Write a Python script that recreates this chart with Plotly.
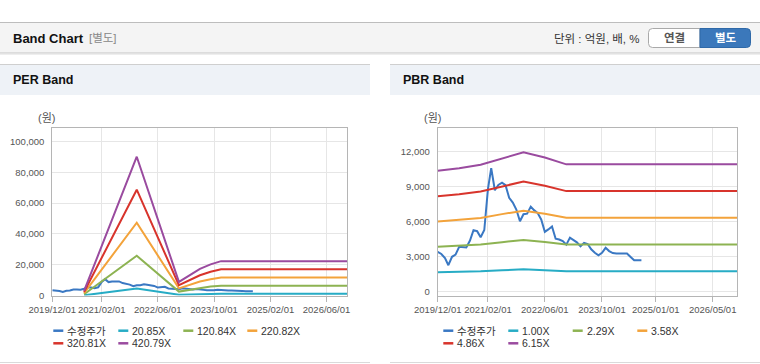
import plotly.graph_objects as go
import pandas as pd

W, H = 760, 364

# ---------------- data ----------------
price_dates = pd.date_range("2019-12-01", periods=58, freq="MS")
price = [3430, 3250, 2900, 2290, 3010, 3200, 3860, 3860, 3800, 4400,
         5290, 5200, 4680, 5300, 8800, 10600, 8700, 9150, 9350, 9140,
         8050, 7650, 7050, 6050, 6650, 6700, 7300, 7000, 6750, 6200,
         5140, 5350, 5600, 4560, 4490, 4350, 4050, 4650, 4400, 4250,
         3900, 4200, 4100, 3650, 3350, 3140, 3350, 3780, 3500, 3330,
         3300, 3300, 3290, 3300, 3000, 2720, 2720, 2720]

per_dates = ["2020-09-01", "2021-12-01", "2022-12-01", "2023-03-01",
             "2023-06-01", "2023-09-01", "2023-12-01", "2026-12-01"]
per_20_85 = [146, 4462, 438, 646, 855, 1001, 1105, 1105]
per_120_84 = [846, 25860, 2538, 3746, 4954, 5800, 6405, 6405]
per_220_82 = [1546, 47255, 4637, 6845, 9054, 10599, 11703, 11703]
per_320_81 = [2246, 68653, 6737, 9945, 13153, 15399, 17003, 17003]
per_420_79 = [2946, 90049, 8837, 13044, 17252, 20198, 22302, 22302]

pbr_dates = ["2019-12-01", "2020-06-01", "2020-12-01", "2021-06-01",
             "2021-12-01", "2022-06-01", "2022-12-01", "2026-12-01"]
pbr_1_00 = [1687, 1720, 1770, 1860, 1943, 1870, 1775, 1775]
pbr_2_29 = [3863, 3939, 4053, 4259, 4449, 4282, 4065, 4065]
pbr_3_58 = [6039, 6158, 6337, 6659, 6956, 6695, 6355, 6355]
pbr_4_86 = [8199, 8359, 8602, 9040, 9443, 9088, 8627, 8627]
pbr_6_15 = [10375, 10578, 10886, 11439, 11949, 11501, 10916, 10916]

per_names = ["20.85X", "120.84X", "220.82X", "320.81X", "420.79X"]
pbr_names = ["1.00X", "2.29X", "3.58X", "4.86X", "6.15X"]
price_name = "수정주가"

per_ticks = ["2019-12-01", "2021-02-01", "2022-06-01", "2023-10-01", "2025-02-01", "2026-06-01"]
pbr_ticks = ["2019-12-01", "2021-02-01", "2022-06-01", "2023-10-01", "2025-01-01", "2026-05-01"]
per_yticks = [0, 20000, 40000, 60000, 80000, 100000]
pbr_yticks = [0, 3000, 6000, 9000, 12000]

# ---------------- style ----------------
C_BLUE = "#3a78c3"
C_CYAN = "#27acc5"
C_GREEN = "#8db352"
C_ORANGE = "#f3a33b"
C_RED = "#d8342c"
C_PURPLE = "#9a4b9f"
band_colors = [C_CYAN, C_GREEN, C_ORANGE, C_RED, C_PURPLE]

FONT = "Liberation Sans, Noto Sans CJK KR, sans-serif"


def px(x):
    return x / W


def py(y):
    return 1 - y / H


fig = go.Figure()

# PER chart
fig.add_trace(go.Scatter(x=price_dates, y=price, mode="lines", name=price_name,
                         line=dict(color=C_BLUE, width=2), xaxis="x", yaxis="y",
                         showlegend=False))
for nm, vals, col in zip(per_names, [per_20_85, per_120_84, per_220_82, per_320_81, per_420_79], band_colors):
    fig.add_trace(go.Scatter(x=per_dates, y=vals, mode="lines", name=nm,
                             line=dict(color=col, width=2), xaxis="x", yaxis="y",
                             showlegend=False))

# PBR chart
fig.add_trace(go.Scatter(x=price_dates, y=price, mode="lines", name=price_name,
                         line=dict(color=C_BLUE, width=2), xaxis="x2", yaxis="y2",
                         showlegend=False))
for nm, vals, col in zip(pbr_names, [pbr_1_00, pbr_2_29, pbr_3_58, pbr_4_86, pbr_6_15], band_colors):
    fig.add_trace(go.Scatter(x=pbr_dates, y=vals, mode="lines", name=nm,
                             line=dict(color=col, width=2), xaxis="x2", yaxis="y2",
                             showlegend=False))

AX_LINE = "#b5b5b5"
GRID = "#e6e6e6"
tickfont = dict(size=9.5, color="#555555", family=FONT)

xcommon = dict(type="date", showgrid=True, gridcolor=GRID, gridwidth=1, showline=True,
               linecolor=AX_LINE, linewidth=1, mirror=True, ticks="outside", ticklen=5,
               tickcolor=AX_LINE, tickfont=tickfont, zeroline=False, tickangle=0,
               automargin=False)
ycommon = dict(showgrid=True, gridcolor=GRID, gridwidth=1, showline=True, linecolor=AX_LINE,
               linewidth=1, mirror=True, ticks="", tickfont=tickfont, zeroline=False,
               ticklabelstandoff=5, automargin=False)

fig.update_layout(
    width=W, height=H, margin=dict(l=0, r=0, t=0, b=0, autoexpand=False),
    autosize=False,
    paper_bgcolor="white", plot_bgcolor="white",
    font=dict(family=FONT, color="#333333"),
    showlegend=False,
    xaxis=dict(xcommon, domain=[px(52.3), px(347)], range=["2019-12-01", "2026-11-25"],
               tickvals=per_ticks, ticktext=[t.replace("-", "/") for t in per_ticks], anchor="y"),
    yaxis=dict(ycommon, domain=[py(295.5), py(128.3)], range=[0, 108500],
               tickvals=per_yticks, ticktext=[f"{v:,}" for v in per_yticks], anchor="x"),
    xaxis2=dict(xcommon, domain=[px(437.7), px(737.3)], range=["2019-12-01", "2026-11-27"],
                tickvals=pbr_ticks, ticktext=[t.replace("-", "/") for t in pbr_ticks], anchor="y2"),
    yaxis2=dict(ycommon, domain=[py(295.5), py(128.3)], range=[-300, 14000],
                tickvals=pbr_yticks, ticktext=[f"{v:,}" for v in pbr_yticks], anchor="x2"),
)

shapes = []
annots = []


def rect(x0, y0, x1, y1, fill, line=None, lw=0):
    shapes.append(dict(type="rect", xref="paper", yref="paper", x0=px(x0), x1=px(x1),
                       y0=py(y1), y1=py(y0), fillcolor=fill, layer="below",
                       line=dict(color=line or fill, width=lw)))


def hline(x0, x1, y, color, w=1):
    shapes.append(dict(type="line", xref="paper", yref="paper", x0=px(x0), x1=px(x1),
                       y0=py(y), y1=py(y), line=dict(color=color, width=w)))


def text(x, y, s, size=11, color="#333333", bold=False, xanchor="left"):
    annots.append(dict(xref="paper", yref="paper", x=px(x), y=py(y), text=f"<b>{s}</b>" if bold else s,
                       showarrow=False, xanchor=xanchor, yanchor="middle",
                       font=dict(size=size, color=color, family=FONT)))


# header
rect(0, 23, 760, 53, "#f4f4f4")
hline(0, 760, 22.5, "#bdbdbd", 1.2)
hline(0, 760, 53, "#c4c4c4", 1)
hline(0, 760, 54.2, "#e6e6e6", 1)
text(11, 38.5, "Band Chart", size=13, color="#111111", bold=True)
text(87, 38.5, "[별도]", size=11.5, color="#888888")
text(642, 38.5, "단위 : 억원, 배, %", size=11.5, color="#333333", xanchor="right")

# buttons (rounded outline)
r = 4
x0b, xm, x1b, yt, yb = 648.5, 700, 750.5, 28.5, 47.5
path_left = (f"M{px(xm)},{py(yt)} L{px(x0b + r)},{py(yt)} Q{px(x0b)},{py(yt)} {px(x0b)},{py(yt + r)} "
             f"L{px(x0b)},{py(yb - r)} Q{px(x0b)},{py(yb)} {px(x0b + r)},{py(yb)} L{px(xm)},{py(yb)} Z")
path_right = (f"M{px(xm)},{py(yt)} L{px(x1b - r)},{py(yt)} Q{px(x1b)},{py(yt)} {px(x1b)},{py(yt + r)} "
              f"L{px(x1b)},{py(yb - r)} Q{px(x1b)},{py(yb)} {px(x1b - r)},{py(yb)} L{px(xm)},{py(yb)} Z")
shapes.append(dict(type="path", xref="paper", yref="paper", path=path_left, fillcolor="white",
                   line=dict(color="#a9a9a9", width=1)))
shapes.append(dict(type="path", xref="paper", yref="paper", path=path_right, fillcolor="#3b78bb",
                   line=dict(color="#2f69a8", width=1)))
text(674, 38.5, "연결", size=11.5, color="#555555", bold=True, xanchor="center")
text(725.5, 38.5, "별도", size=11.5, color="#ffffff", bold=True, xanchor="center")

# panels
for (a, b, title) in [(0, 370, "PER Band"), (390, 760, "PBR Band")]:
    rect(a, 65, b, 95, "#eef2f7")
    hline(a, b, 64.5, "#cfcfcf", 1.2)
    hline(a, b, 362.5, "#dadada", 1)
    text(a + 11, 80, title, size=12.5, color="#111111", bold=True)

text(46.5, 118, "(원)", size=11, color="#555555", xanchor="center")
text(432, 118, "(원)", size=11, color="#555555", xanchor="center")


# manual legends
def legend(items, x_sw, rows_y):
    for i, (nm, col) in enumerate(items):
        row, colidx = divmod(i, 4)
        xs = x_sw[colidx]
        y = rows_y[row]
        hline(xs, xs + 10, y, col, 2.5)
        text(xs + 12, y, nm, size=10.5, color="#333333")


per_items = [(price_name, C_BLUE)] + list(zip(per_names, band_colors))
pbr_items = [(price_name, C_BLUE)] + list(zip(pbr_names, band_colors))
legend(per_items, [53.3, 118.3, 183.3, 247.3], [330.7, 343.3])
legend(pbr_items, [443.3, 508.3, 572.7, 637.3], [330.7, 343.3])

fig.update_layout(shapes=shapes, annotations=annots)
fig.write_html("out.html", config={"displayModeBar": False},
               post_script="document.body.style.margin='0';document.body.style.overflow='hidden';")
